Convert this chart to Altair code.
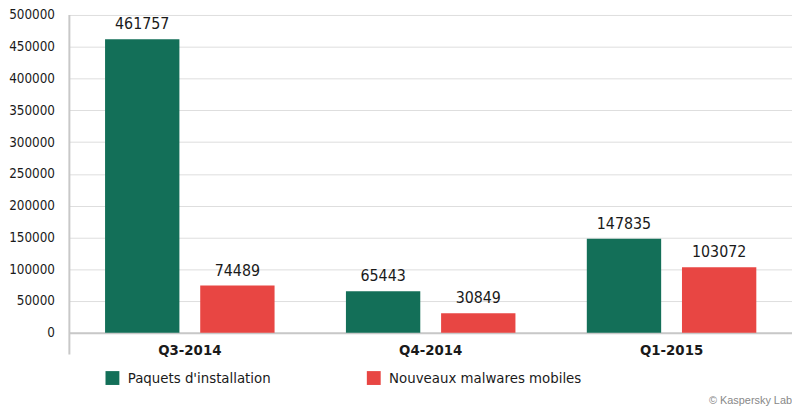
import altair as alt
import pandas as pd

quarters = ["Q3-2014", "Q4-2014", "Q1-2015"]
series = ["Paquets d'installation", "Nouveaux malwares mobiles"]
paquets = [461757, 65443, 147835]
malwares = [74489, 30849, 103072]
colors = ["#136f58", "#e84643"]

rows = []
for q, p, m in zip(quarters, paquets, malwares):
    rows.append({"quarter": q, "serie": series[0], "value": p})
    rows.append({"quarter": q, "serie": series[1], "value": m})
df = pd.DataFrame(rows)

FONT = "DejaVu Sans Condensed, Liberation Sans Narrow, sans-serif"

x = alt.X("quarter:N", sort=quarters, title=None,
          scale=alt.Scale(paddingInner=0, paddingOuter=0),
          axis=alt.Axis(labelAngle=0, labelFontWeight="bold", labelFontSize=15,
                        labelFont=FONT, labelColor="#1a1a1a", ticks=False,
                        labelPadding=10, domainColor="#c8c8c8", domainWidth=2))
xo = alt.XOffset("serie:N", sort=series,
                 scale=alt.Scale(paddingInner=0.21875, paddingOuter=0.375))
y = alt.Y("value:Q", title=None,
          scale=alt.Scale(domain=[0, 500000], nice=False),
          axis=alt.Axis(values=list(range(0, 500001, 50000)), format="d",
                        labelFont=FONT, labelFontSize=13.5, labelColor="#1a1a1a",
                        labelOverlap=False, labelBound=False,
                        ticks=False, domain=False, labelPadding=15,
                        gridColor="#dedede", gridWidth=1))

bars = alt.Chart(df).mark_bar().encode(
    x=x, xOffset=xo, y=y,
    color=alt.Color("serie:N", sort=series,
                    scale=alt.Scale(domain=series, range=colors),
                    legend=alt.Legend(title=None, orient="none", direction="horizontal",
                                      legendX=36, legendY=359,
                                      symbolType="square", symbolSize=196,
                                      symbolStrokeWidth=0, symbolOpacity=1,
                                      labelFont=FONT, labelFontSize=15,
                                      labelColor="#1a1a1a", columnPadding=96,
                                      labelOffset=8, labelLimit=300)),
)

labels = alt.Chart(df).mark_text(baseline="bottom", dy=-7, fontSize=16, font=FONT,
                                 color="#1a1a1a").encode(
    x=x, xOffset=xo, y=y,
    text=alt.Text("value:Q", format="d"),
)

vline = alt.Chart(pd.DataFrame({"a": [0]})).mark_rule(color="#c8c8c8", strokeWidth=2).encode(
    x=alt.value(0), y=alt.value(0), y2=alt.value(343)
)

chart = alt.layer(bars, labels, vline).properties(
    width=730, height=321,
    autosize=alt.AutoSizeParams(type="none"),
    padding={"left": 62, "top": 5, "right": 0, "bottom": 77},
    title=alt.Title("© Kaspersky Lab", orient="bottom", anchor="end",
                    font="Liberation Sans", fontSize=11, fontWeight="normal",
                    color="#888888", offset=9),
).configure_view(stroke=None)

chart.save("out.html", embed_options={"renderer": "svg", "actions": False})
